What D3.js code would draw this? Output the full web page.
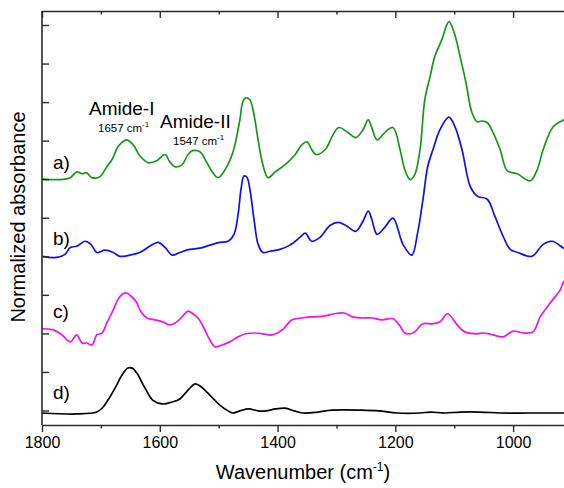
<!DOCTYPE html>
<html><head><meta charset="utf-8">
<script src="https://cdn.jsdelivr.net/npm/d3@7"></script>
<style>body{margin:0;background:#fff}svg{display:block}text{font-family:Arial,"Liberation Sans",sans-serif}</style>
</head><body><svg id="c" width="564" height="488"></svg>
<script>
// ---- data (wavenumber cm^-1, normalized absorbance relative to each trace's baseline) ----
const seriesA = [[1800,0.01],[1769,-0.01],[1752,0.04],[1741,0.19],[1732,0.14],[1725,0.17],[1715,0.04],[1702,0.06],[1691,0.30],[1681,0.51],[1671,0.84],[1657,1.02],[1645,0.89],[1634,0.61],[1620,0.43],[1605,0.48],[1591,0.64],[1583,0.45],[1574,0.32],[1562,0.38],[1552,0.64],[1544,0.74],[1532,0.71],[1520,0.43],[1510,0.17],[1501,0.04],[1489,0.25],[1476,0.69],[1464,1.54],[1459,2.01],[1454,2.11],[1447,2.06],[1440,1.67],[1433,1.02],[1425,0.38],[1416,0.04],[1404,0.19],[1387,0.38],[1370,0.64],[1359,0.89],[1350,0.97],[1342,0.77],[1335,0.64],[1319,0.77],[1306,1.15],[1296,1.34],[1282,1.23],[1267,1.08],[1255,1.28],[1246,1.54],[1240,1.34],[1231,1.02],[1218,1.21],[1204,1.34],[1192,0.77],[1184,0.25],[1175,-0.01],[1167,0.12],[1158,0.77],[1150,2.06],[1141,2.66],[1133,3.18],[1121,3.62],[1109,4.09],[1100,3.80],[1090,3.18],[1080,2.50],[1070,1.73],[1061,1.49],[1053,1.51],[1044,1.47],[1034,1.21],[1022,0.77],[1010,0.22],[993,0.14],[971,-0.04],[959,0.25],[949,0.77],[932,1.36],[914,1.54],[900,1.62]];
const seriesB = [[1800,0],[1775,-0.03],[1761,0.05],[1752,0.23],[1741,0.26],[1727,0.39],[1717,0.31],[1707,0.10],[1693,0.16],[1679,0.10],[1668,0],[1651,0.03],[1634,0.10],[1617,0.26],[1603,0.36],[1591,0.23],[1579,0.03],[1566,0.10],[1549,0.18],[1532,0.21],[1515,0.29],[1498,0.36],[1484,0.39],[1474,0.57],[1467,1.09],[1462,1.74],[1457,2.08],[1452,2.05],[1447,1.74],[1440,0.96],[1433,0.31],[1425,0.10],[1413,0.13],[1396,0.18],[1379,0.29],[1362,0.49],[1353,0.60],[1342,0.39],[1328,0.49],[1311,0.80],[1297,0.88],[1284,0.80],[1267,0.65],[1255,0.91],[1246,1.17],[1240,0.96],[1231,0.57],[1218,0.75],[1204,0.99],[1187,0.31],[1172,0.03],[1162,0.62],[1153,1.48],[1145,2.33],[1136,2.77],[1124,3.29],[1109,3.61],[1099,3.37],[1087,2.78],[1073,1.82],[1061,1.56],[1044,1.48],[1031,1.04],[1017,0.52],[1005,0.18],[992,0.10],[968,0],[949,0.31],[934,0.39],[914,0.21],[900,0.10]];
const seriesC = [[1800,0.12],[1781,0.09],[1766,-0.04],[1752,-0.22],[1741,-0.04],[1732,-0.25],[1724,-0.25],[1715,-0.30],[1707,-0.04],[1698,0.01],[1690,0.27],[1679,0.61],[1668,0.95],[1657,1.05],[1649,0.97],[1640,0.82],[1632,0.56],[1622,0.40],[1608,0.35],[1595,0.30],[1583,0.22],[1571,0.30],[1561,0.45],[1552,0.58],[1544,0.51],[1535,0.40],[1525,0.14],[1515,-0.17],[1506,-0.35],[1494,-0.30],[1481,-0.22],[1467,-0.09],[1454,-0.01],[1438,0.01],[1425,-0.01],[1409,-0.04],[1392,0.09],[1376,0.35],[1359,0.40],[1340,0.43],[1321,0.45],[1304,0.51],[1287,0.53],[1272,0.43],[1257,0.40],[1240,0.40],[1223,0.35],[1204,0.38],[1192,0.19],[1184,0.01],[1170,0.01],[1153,0.25],[1136,0.25],[1124,0.30],[1111,0.51],[1095,0.22],[1082,0.04],[1061,-0.01],[1051,0.01],[1034,-0.04],[1017,-0.09],[1000,0.06],[983,0.01],[966,0.04],[954,0.43],[937,0.79],[920,1.13],[914,1.34],[900,1.55]];
const seriesD = [[1800,-0.065],[1741,-0.09],[1707,-0.04],[1698,0.06],[1688,0.27],[1676,0.58],[1664,0.92],[1654,1.10],[1647,1.10],[1639,0.97],[1625,0.58],[1612,0.27],[1596,0.17],[1579,0.22],[1566,0.30],[1552,0.53],[1540,0.69],[1532,0.64],[1515,0.40],[1498,0.14],[1484,-0.01],[1476,-0.065],[1464,-0.01],[1449,0.04],[1433,-0.01],[1420,-0.01],[1403,0.04],[1387,0.06],[1372,-0.01],[1357,-0.065],[1331,-0.04],[1308,0.01],[1258,0.01],[1228,-0.01],[1197,-0.065],[1158,-0.065],[1141,-0.04],[1116,-0.065],[1090,-0.04],[1056,-0.04],[1022,-0.065],[971,-0.065],[900,-0.065]];
const seriesLabels = ["a)","b)","c)","d)"];
const seriesOffsets = [6,4,2,0];
const seriesColors = ["#16961a","#1010ee","#f010f0","#000000"];
const xMajorTicks = [1800,1600,1400,1200,1000];
const xMinorTicks = [1700,1500,1300,1100,900];
const yTicks = [0,1,2,3,4,5,6,7,8,9,10];
const annotations = [{main:"Amide-I", sub:"1657 cm", w:1657},{main:"Amide-II", sub:"1547 cm", w:1547}];

// ---- layout ----
const svg = d3.select("#c");
const PL = 42, PT = 11, PB = 425, PR = 572;
const x = d3.scaleLinear().domain([1800,900]).range([PL,PR]);
const y = d3.scaleLinear().domain([0,10]).range([410.5,25]);
const axisColor = "#2a2a2a";

svg.append("defs").append("clipPath").attr("id","clip")
  .append("rect").attr("x",PL).attr("y",PT).attr("width",PR-PL).attr("height",PB-PT);

// traces
const all = [seriesA,seriesB,seriesC,seriesD];
const g = svg.append("g").attr("clip-path","url(#clip)");
all.forEach((s,i)=>{
  const line = d3.line().x(d=>x(d[0])).y(d=>y(d[1]+seriesOffsets[i])).curve(d3.curveCatmullRom.alpha(0.5));
  g.append("path").attr("d",line(s)).attr("fill","none").attr("stroke",seriesColors[i])
   .attr("stroke-width",1.7).attr("stroke-linejoin","round");
});

// axes
function styleAxis(sel){
  sel.selectAll(".domain").attr("stroke",axisColor).attr("stroke-width",1.6);
  sel.selectAll(".tick line").attr("stroke",axisColor).attr("stroke-width",1.4);
}
const axB = svg.append("g").attr("transform",`translate(0,${PB})`)
  .call(d3.axisBottom(x).tickValues(xMajorTicks).tickSize(7).tickSizeOuter(0).tickPadding(5).tickFormat(d3.format("d")));
styleAxis(axB);
axB.selectAll("text").attr("font-size",16).attr("fill","#000").attr("font-family","Arial, 'Liberation Sans', sans-serif");
const axBm = svg.append("g").attr("transform",`translate(0,${PB})`)
  .call(d3.axisBottom(x).tickValues(xMinorTicks).tickSize(3.5).tickSizeOuter(0).tickFormat(""));
styleAxis(axBm); axBm.select(".domain").remove();

const axT = svg.append("g").attr("transform",`translate(0,${PT})`)
  .call(d3.axisTop(x).tickValues(xMajorTicks).tickSize(-7).tickSizeOuter(0).tickFormat(""));
styleAxis(axT);
const axTm = svg.append("g").attr("transform",`translate(0,${PT})`)
  .call(d3.axisTop(x).tickValues(xMinorTicks).tickSize(-3.5).tickSizeOuter(0).tickFormat(""));
styleAxis(axTm); axTm.select(".domain").remove();

const axL = svg.append("g").attr("transform",`translate(${PL},0)`)
  .call(d3.axisLeft(y).tickValues(yTicks).tickSize(-7).tickSizeOuter(0).tickFormat(""));
axL.select(".domain").attr("d",`M0,${PT}V${PB}`);
styleAxis(axL);

// axis titles
const xt = svg.append("text").attr("x",303).attr("y",479).attr("text-anchor","middle").attr("font-size",20);
xt.append("tspan").text("Wavenumber (cm");
xt.append("tspan").attr("font-size",12).attr("dy",-8).text("-1");
xt.append("tspan").attr("dy",8).text(")");

svg.append("text").attr("transform","translate(25,217) rotate(-90)").attr("text-anchor","middle")
  .attr("font-size",20).text("Normalized absorbance");

// series labels
const labelBase = [169,245,318,399];
seriesLabels.forEach((t,i)=>{
  svg.append("text").attr("x",53).attr("y",labelBase[i]).attr("font-size",19).text(t);
});

// annotations
const annPos = [{mx:89,my:115,sx:98,sy:132},{mx:160,my:128,sx:173,sy:145}];
annotations.forEach((a,i)=>{
  const p = annPos[i];
  svg.append("text").attr("x",p.mx).attr("y",p.my).attr("font-size",19).text(a.main);
  const s = svg.append("text").attr("x",p.sx).attr("y",p.sy).attr("font-size",11.5);
  s.append("tspan").text(a.sub);
  s.append("tspan").attr("font-size",8).attr("dy",-5).text("-1");
});
</script></body></html>
